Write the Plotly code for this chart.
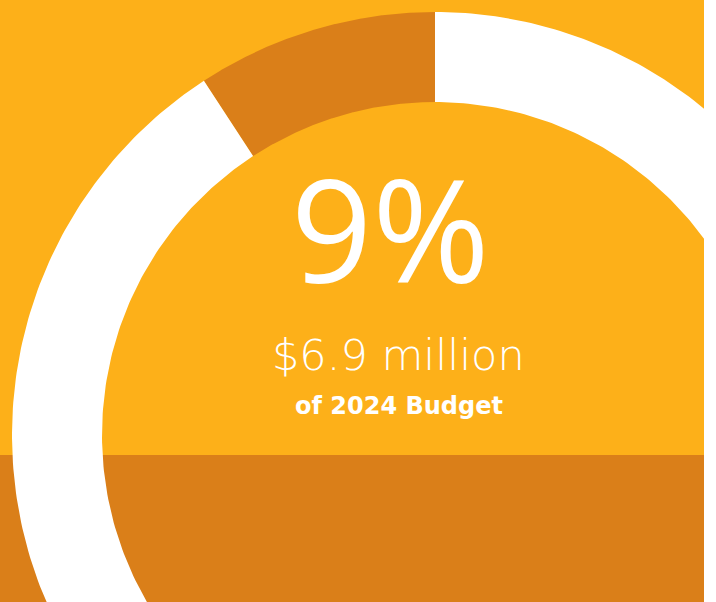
import numpy as np
import plotly.graph_objects as go

# ---- data ----
labels = ["Share of budget", "Rest of budget"]
values = [9.2, 90.8]
headline = "9%"
amount = "$6.9 million"
caption = "of 2024 Budget"

# ---- style ----
W, H = 704, 602
YELLOW = "#FDB019"
DARK = "#DA7F19"
WHITE = "#FFFFFF"
slice_colors = [DARK, WHITE]
cx, cy = 435, 435
r_out, r_in = 423, 333
band_top = 455

fig = go.Figure()

# donut slices, starting at 12 o'clock, running counter-clockwise
total = float(sum(values))
start = 0.0
for lab, v, col in zip(labels, values, slice_colors):
    a0 = start / total * 2 * np.pi
    a1 = (start + v) / total * 2 * np.pi
    t = np.linspace(a0, a1, 400)
    xo = cx - r_out * np.sin(t)
    yo = cy - r_out * np.cos(t)
    xi = cx - r_in * np.sin(t[::-1])
    yi = cy - r_in * np.cos(t[::-1])
    xs = np.concatenate([xo, xi, xo[:1]])
    ys = np.concatenate([yo, yi, yo[:1]])
    fig.add_trace(go.Scatter(x=xs, y=ys, mode="lines", fill="toself",
                             fillcolor=col, line=dict(width=0, color=col),
                             name=lab, hoverinfo="skip", showlegend=False))
    start += v

fig.add_shape(type="rect", xref="paper", yref="y", x0=0, x1=1, y0=band_top, y1=H,
              fillcolor=DARK, line=dict(width=0), layer="below")

fig.add_annotation(x=390, y=228, xref="x", yref="y", text=headline, showarrow=False,
                   font=dict(family="Open Sans", size=142, color=WHITE, weight=400),
                   xanchor="center", yanchor="middle")
fig.add_annotation(x=398, y=355, xref="x", yref="y", text=amount, showarrow=False,
                   font=dict(family="DejaVu Sans", size=43, color=WHITE, weight=200),
                   xanchor="center", yanchor="middle")
fig.add_annotation(x=399, y=406, xref="x", yref="y", text=caption, showarrow=False,
                   font=dict(family="DejaVu Sans", size=24, color=WHITE, weight="bold"),
                   xanchor="center", yanchor="middle")

fig.update_layout(
    width=W, height=H, margin=dict(l=0, r=0, t=0, b=0),
    paper_bgcolor=YELLOW, plot_bgcolor="rgba(0,0,0,0)",
    xaxis=dict(range=[0, W], visible=False, fixedrange=True),
    yaxis=dict(range=[H, 0], visible=False, fixedrange=True),
    showlegend=False,
)
fig.write_html("out.html", config={"displayModeBar": False},
               post_script="document.body.style.margin='0';document.body.style.overflow='hidden';")
